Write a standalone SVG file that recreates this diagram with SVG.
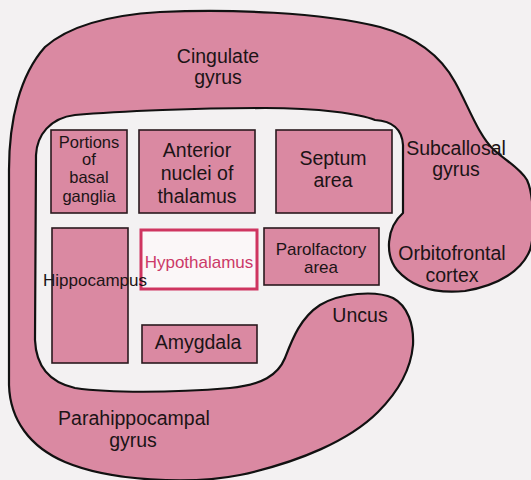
<svg xmlns="http://www.w3.org/2000/svg" width="531" height="480" viewBox="0 0 531 480">
<style>
.region{fill:#da89a2;stroke:#111;stroke-width:2.2;stroke-linejoin:round}
.box{fill:#da89a2;stroke:#2a1a1e;stroke-width:1.6}
.hyp{fill:#fbf7f8;stroke:#cf3560;stroke-width:3}
text{font-family:"Liberation Sans",Arial,Helvetica,sans-serif;fill:#1c1416;text-anchor:middle}
.lg{font-size:19.5px}
.sm{font-size:17px}
.xs{font-size:16.5px}
.red{fill:#cc3a68}
</style>
<rect width="531" height="480" fill="#f3f1f2"/>
<g id="limbic-ring">
<path class="region" d="M 9,385 L 9,170 C 9,120 20,75 45,47 C 70,25 110,15 160,12 C 230,9 320,12 380,27 C 420,38 443,60 455,82 C 468,105 478,135 494,150 C 505,160 520,168 527,180 C 534,195 535,235 530,250 C 522,270 500,285 465,291 C 435,294 412,287 397,270 C 385,255 386,228 403,213 L 403,145 C 402,128 392,121 375,120 C 360,114 320,108 265,108 C 200,108 120,111 75,115 C 50,118 37,135 36,155 L 35,340 C 36,365 48,382 75,388 C 110,393 170,393 230,388 C 262,385 278,375 285,358 C 292,340 300,318 320,305 C 340,293 375,290 393,298 C 408,306 414,325 413,345 C 411,368 400,390 378,412 C 350,440 300,462 240,475 C 190,485 110,481 65,462 C 30,447 10,420 9,385 Z"/>
</g>
<g id="cingulate-gyrus"><text class="lg" x="218" y="63">Cingulate</text><text class="lg" x="218" y="84">gyrus</text></g>
<g id="subcallosal-gyrus"><text class="lg" x="456" y="155">Subcallosal</text><text class="lg" x="456" y="176">gyrus</text></g>
<g id="orbitofrontal-cortex"><text class="lg" x="452" y="260">Orbitofrontal</text><text class="lg" x="452" y="282">cortex</text></g>
<g id="uncus"><text class="lg" x="360" y="322">Uncus</text></g>
<g id="parahippocampal-gyrus"><text class="lg" x="134" y="425">Parahippocampal</text><text class="lg" x="133" y="447">gyrus</text></g>
<g id="basal-ganglia"><rect class="box" x="51" y="130" width="76" height="83"/>
<text class="xs" x="89" y="148">Portions</text><text class="xs" x="89" y="165">of</text><text class="xs" x="89" y="183">basal</text><text class="xs" x="89" y="202">ganglia</text></g>
<g id="anterior-nuclei"><rect class="box" x="139" y="130" width="116" height="83"/>
<text class="lg" x="197" y="157">Anterior</text><text class="lg" x="197" y="180">nuclei of</text><text class="lg" x="197" y="203">thalamus</text></g>
<g id="septum"><rect class="box" x="276" y="130" width="116" height="83"/>
<text class="lg" x="333" y="165">Septum</text><text class="lg" x="333" y="187">area</text></g>
<g id="hypothalamus"><rect class="hyp" x="141" y="230" width="116" height="59"/>
<text class="sm red" x="199" y="268">Hypothalamus</text></g>
<g id="hippocampus"><rect class="box" x="52" y="228" width="76" height="135"/>
<text class="sm" x="95" y="286">Hippocampus</text></g>
<g id="parolfactory"><rect class="box" x="264" y="228" width="115" height="57"/>
<text class="sm" x="321" y="255">Parolfactory</text><text class="sm" x="321" y="273">area</text></g>
<g id="amygdala"><rect class="box" x="142" y="325" width="115" height="38"/>
<text class="lg" x="198" y="349">Amygdala</text></g>
<g id="connectors"/>
</svg>
